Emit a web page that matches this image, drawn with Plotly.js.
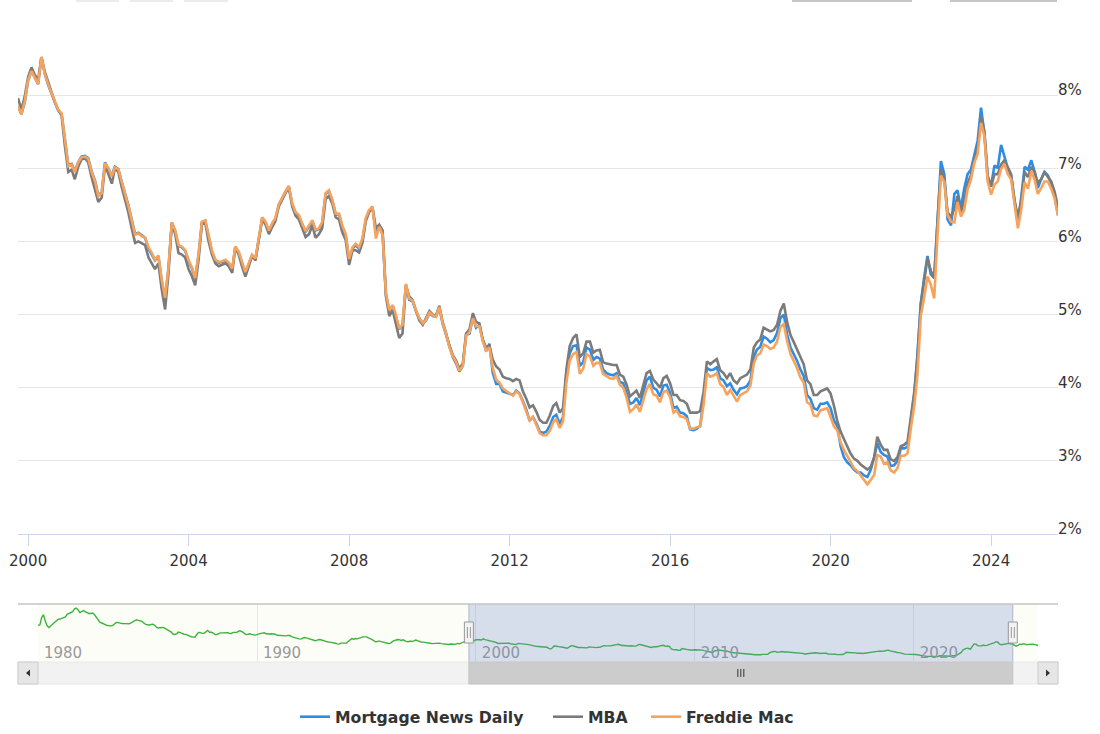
<!DOCTYPE html>
<html>
<head>
<meta charset="utf-8">
<script src="https://cdn.plot.ly/plotly-3.0.1.min.js"></script>
<style>
html,body{margin:0;padding:0;background:#ffffff;}
#chart{width:1100px;height:734px;}
</style>
</head>
<body>
<div id="chart"></div>
<script>
// ---------- DATA (monthly, first point Oct 1999) ----------
const seriesStart = [1999, 10];

const freddieMac = [
  7.85,7.74,7.91,
  8.21,8.33,8.24,8.15,8.52,8.29,8.15,8.03,7.91,7.80,7.75,7.38,
  7.03,7.05,6.95,7.08,7.15,7.16,7.13,6.95,6.82,6.62,6.66,7.07,
  7.00,6.89,7.01,6.99,6.81,6.65,6.49,6.29,6.09,6.11,6.07,6.05,
  5.92,5.84,5.75,5.81,5.48,5.23,5.63,6.26,6.15,5.95,5.93,5.88,
  5.74,5.64,5.50,5.83,6.27,6.29,6.06,5.87,5.75,5.72,5.73,5.75,
  5.71,5.63,5.93,5.86,5.72,5.58,5.70,5.82,5.77,6.07,6.33,6.27,
  6.15,6.25,6.32,6.51,6.60,6.68,6.76,6.52,6.40,6.36,6.24,6.14,
  6.22,6.29,6.16,6.18,6.26,6.66,6.70,6.57,6.38,6.38,6.21,6.10,
  5.76,5.92,5.97,5.92,6.04,6.32,6.43,6.48,6.04,6.20,6.09,5.29,
  5.06,5.13,5.00,4.81,4.86,5.42,5.22,5.19,5.06,4.95,4.88,4.93,
  5.03,4.99,4.97,5.10,4.89,4.74,4.56,4.43,4.35,4.23,4.30,4.71,
  4.76,4.95,4.84,4.84,4.64,4.51,4.55,4.27,4.11,4.07,3.99,3.96,
  3.92,3.89,3.95,3.91,3.80,3.68,3.55,3.60,3.50,3.38,3.35,3.35,
  3.41,3.53,3.57,3.45,3.54,4.07,4.37,4.46,4.49,4.19,4.26,4.46,
  4.43,4.30,4.34,4.34,4.19,4.16,4.13,4.12,4.16,4.04,4.00,3.86,
  3.67,3.71,3.77,3.67,3.84,3.98,4.05,3.91,3.89,3.80,3.94,3.96,
  3.87,3.66,3.69,3.61,3.60,3.57,3.44,3.44,3.46,3.47,3.77,4.20,
  4.15,4.17,4.20,4.05,4.01,3.90,3.97,3.88,3.81,3.90,3.92,3.95,
  4.03,4.33,4.44,4.47,4.59,4.57,4.53,4.55,4.63,4.83,4.87,4.64,
  4.46,4.37,4.27,4.14,4.07,3.80,3.77,3.62,3.61,3.69,3.70,3.72,
  3.60,3.47,3.42,3.25,3.15,3.07,2.98,2.90,2.86,2.80,2.75,2.68,
  2.74,2.81,3.08,3.06,2.96,2.98,2.87,2.84,2.90,3.07,3.07,3.10,
  3.45,3.76,4.17,4.98,5.23,5.52,5.41,5.22,6.11,6.90,6.81,6.36,
  6.27,6.26,6.54,6.34,6.43,6.71,6.84,7.07,7.20,7.62,7.44,6.82,
  6.64,6.78,6.82,6.99,7.06,6.92,6.85,6.50,6.18,6.43,6.81,6.72,
  6.96,6.84,6.65,6.73,6.82,6.82,6.72,6.59,6.35
];

const mba = [
  7.96,7.80,7.98,
  8.25,8.38,8.28,8.20,8.52,8.32,8.18,8.03,7.90,7.80,7.72,7.30,
  6.95,6.98,6.85,7.02,7.12,7.14,7.08,6.88,6.72,6.54,6.60,7.04,
  6.92,6.79,7.00,6.95,6.75,6.58,6.40,6.18,5.98,6.00,5.98,5.95,
  5.78,5.70,5.62,5.70,5.35,5.07,5.55,6.24,6.10,5.84,5.82,5.78,
  5.62,5.52,5.40,5.75,6.24,6.25,6.00,5.82,5.70,5.66,5.68,5.70,
  5.66,5.57,5.92,5.82,5.66,5.52,5.66,5.80,5.74,6.03,6.31,6.23,
  6.10,6.20,6.28,6.48,6.58,6.66,6.74,6.48,6.35,6.30,6.18,6.06,
  6.10,6.22,6.05,6.10,6.18,6.58,6.62,6.52,6.33,6.30,6.12,6.02,
  5.68,5.88,5.88,5.85,5.98,6.28,6.40,6.46,6.18,6.23,6.15,5.25,
  4.98,5.06,4.88,4.68,4.74,5.40,5.25,5.20,5.05,4.92,4.86,4.95,
  5.05,5.00,4.98,5.12,4.90,4.75,4.58,4.45,4.37,4.26,4.33,4.74,
  4.80,5.02,4.90,4.88,4.66,4.55,4.58,4.38,4.29,4.25,4.15,4.13,
  4.12,4.09,4.12,4.10,3.95,3.85,3.73,3.76,3.67,3.56,3.52,3.52,
  3.62,3.75,3.79,3.66,3.72,4.25,4.57,4.68,4.73,4.42,4.47,4.63,
  4.63,4.48,4.51,4.52,4.35,4.33,4.32,4.31,4.31,4.18,4.15,4.04,
  3.88,3.92,3.96,3.86,4.04,4.20,4.23,4.11,4.06,4.00,4.13,4.16,
  4.06,3.90,3.90,3.83,3.82,3.78,3.66,3.66,3.66,3.68,3.95,4.36,
  4.32,4.36,4.39,4.24,4.20,4.13,4.20,4.10,4.06,4.13,4.15,4.18,
  4.25,4.55,4.62,4.66,4.82,4.80,4.77,4.79,4.86,5.05,5.15,4.90,
  4.72,4.62,4.52,4.42,4.32,4.10,4.05,3.90,3.90,3.95,3.97,3.99,
  3.92,3.75,3.55,3.40,3.30,3.20,3.10,3.03,3.00,2.95,2.92,2.88,
  2.92,3.05,3.33,3.22,3.15,3.15,3.02,3.00,3.05,3.20,3.22,3.26,
  3.60,3.95,4.40,5.15,5.45,5.77,5.60,5.50,6.30,6.98,6.85,6.40,
  6.33,6.45,6.62,6.40,6.55,6.80,6.90,7.12,7.28,7.71,7.50,6.90,
  6.75,6.92,6.92,7.05,7.11,7.00,6.92,6.55,6.34,6.55,6.95,6.88,
  7.02,6.95,6.80,6.85,6.95,6.88,6.82,6.68,6.47
];

const mortgageNewsDaily = [
  7.85,7.74,7.90,
  8.20,8.33,8.24,8.15,8.52,8.29,8.14,8.02,7.90,7.79,7.74,7.37,
  7.04,7.06,6.96,7.08,7.16,7.17,7.14,6.96,6.83,6.63,6.67,7.08,
  7.00,6.90,7.02,6.99,6.82,6.66,6.50,6.30,6.10,6.12,6.08,6.05,
  5.90,5.82,5.74,5.80,5.46,5.20,5.62,6.26,6.14,5.94,5.92,5.87,
  5.73,5.63,5.49,5.82,6.26,6.28,6.05,5.86,5.74,5.71,5.72,5.74,
  5.70,5.62,5.92,5.85,5.71,5.57,5.69,5.81,5.76,6.06,6.32,6.26,
  6.14,6.24,6.31,6.50,6.60,6.68,6.75,6.51,6.39,6.35,6.23,6.13,
  6.20,6.28,6.15,6.17,6.25,6.65,6.69,6.56,6.37,6.37,6.20,6.09,
  5.75,5.90,5.95,5.90,6.02,6.30,6.42,6.47,6.10,6.20,6.10,5.28,
  5.05,5.12,4.98,4.80,4.85,5.40,5.20,5.18,5.05,4.95,4.88,4.92,
  5.02,4.98,4.97,5.10,4.88,4.72,4.55,4.42,4.33,4.22,4.30,4.72,
  4.74,4.96,4.82,4.86,4.66,4.50,4.60,4.20,4.05,4.05,3.95,3.93,
  3.92,3.90,3.96,3.92,3.82,3.70,3.55,3.60,3.51,3.40,3.38,3.40,
  3.48,3.60,3.63,3.50,3.60,4.20,4.47,4.57,4.58,4.30,4.35,4.55,
  4.52,4.38,4.42,4.40,4.25,4.20,4.18,4.17,4.20,4.08,4.06,3.93,
  3.78,3.80,3.86,3.76,3.94,4.10,4.15,4.00,3.97,3.88,4.03,4.04,
  3.93,3.72,3.74,3.66,3.65,3.61,3.43,3.42,3.44,3.48,3.84,4.27,
  4.24,4.25,4.28,4.13,4.10,4.02,4.06,3.97,3.91,3.99,4.00,4.02,
  4.10,4.42,4.52,4.56,4.70,4.67,4.62,4.65,4.75,4.95,5.00,4.73,
  4.55,4.46,4.37,4.25,4.16,3.90,3.85,3.72,3.70,3.78,3.78,3.80,
  3.72,3.55,3.48,3.20,3.05,2.98,2.94,2.88,2.84,2.84,2.80,2.78,
  2.88,3.05,3.24,3.12,3.08,3.06,2.93,2.94,3.00,3.17,3.17,3.19,
  3.55,3.90,4.45,5.15,5.50,5.80,5.55,5.50,6.30,7.10,6.92,6.30,
  6.22,6.65,6.70,6.45,6.72,6.92,6.98,7.20,7.38,7.83,7.48,6.86,
  6.77,7.04,7.00,7.32,7.15,7.00,6.90,6.55,6.25,6.60,7.02,6.98,
  7.11,6.95,6.73,6.85,6.95,6.90,6.80,6.62,6.36
];

// Navigator: long Freddie Mac history before the main window (monthly from Jan 1980)
const navigatorStart = [1980, 1];
const navigatorHistory = [
  12.88,13.04,15.28,16.32,14.26,12.71,12.19,12.56,13.20,13.79,14.21,14.79,
  14.90,15.13,15.40,15.58,16.40,16.70,16.83,17.29,18.16,18.45,17.83,16.92,
  17.40,17.60,17.16,16.89,16.68,16.70,16.82,16.27,15.43,14.61,13.83,13.62,
  13.25,13.04,12.80,12.78,12.63,12.87,13.42,13.81,13.73,13.54,13.44,13.42,
  13.37,13.23,13.39,13.65,13.94,14.42,14.67,14.47,14.35,14.13,13.64,13.18,
  13.08,12.92,13.17,13.20,12.91,12.22,12.03,12.19,12.19,12.14,11.78,11.26,
  10.88,10.71,10.08,9.94,10.14,10.68,10.51,10.20,10.01,9.98,9.70,9.31,
  9.20,9.08,9.04,9.83,10.60,10.54,10.28,10.33,10.89,11.26,10.65,10.64,
  10.38,9.89,9.93,10.20,10.46,10.46,10.43,10.60,10.48,10.30,10.27,10.61,
  10.73,10.65,11.03,11.05,10.77,10.20,9.88,9.99,10.13,9.95,9.77,9.74,
  9.90,10.20,10.27,10.37,10.48,10.16,10.04,10.10,10.18,10.18,10.01,9.67,
  9.64,9.37,9.50,9.49,9.47,9.62,9.58,9.24,9.01,8.86,8.71,8.50,
  8.43,8.76,8.94,8.85,8.67,8.51,8.13,7.98,7.92,8.09,8.31,8.22,
  7.99,7.68,7.50,7.47,7.47,7.42,7.21,7.11,6.92,6.83,7.16,7.17,
  7.06,7.15,7.68,8.32,8.60,8.40,8.61,8.51,8.64,8.93,9.17,9.20,
  9.15,8.83,8.46,8.32,7.96,7.57,7.61,7.86,7.64,7.48,7.38,7.20,
  7.03,7.08,7.62,7.93,8.07,8.32,8.25,8.00,8.23,7.92,7.62,7.60,
  7.82,7.65,7.90,8.14,7.94,7.69,7.50,7.48,7.43,7.29,7.21,7.10,
  6.99,7.04,7.13,7.14,7.14,7.00,6.95,6.92,6.72,6.71,6.87,6.72,
  6.79,6.81,7.04,6.92,7.15,7.55,7.63,7.94,7.82
];

const seriesNames  = ['Mortgage News Daily', 'MBA', 'Freddie Mac'];
const seriesColors = ['#2f8ce6', '#7b7b7b', '#f7a35c'];
const mainTickYears = [2000, 2004, 2008, 2012, 2016, 2020, 2024];
const yTickValues   = [2, 3, 4, 5, 6, 7, 8, 9];
const navTickYears  = [1980, 1990, 2000, 2010, 2020];
const mainRange     = ['1999-10-01', '2025-09-01'];
const navRange      = ['1980-01-01', '2025-09-01'];
const navSelection  = ['1999-09-05', '2024-07-08'];
// legend entry left edges (pixels) for the three series
const legendLeft    = [295, 548, 646];

// ---------- helpers ----------
function monthDates(start, n) {
  const out = [];
  for (let i = 0; i < n; i++) {
    const k = start[1] - 1 + i;
    const yy = start[0] + Math.floor(k / 12);
    const mm = (k % 12) + 1;
    out.push(yy + '-' + String(mm).padStart(2, '0') + '-01');
  }
  return out;
}
// layout pixel -> paper helpers (figure 1100x734, margins l18 r42 t22 b50)
const W = 1100, H = 734, ML = 18, MR = 42, MT = 22, MB = 50;
const PW = W - ML - MR, PH = H - MT - MB;
const px = v => (v - ML) / PW;
const py = v => (H - MB - v) / PH;

const mainDates = monthDates(seriesStart, freddieMac.length);
const navValues = navigatorHistory.concat(freddieMac);
const navDates  = monthDates(navigatorStart, navValues.length);
const seriesValues = [mortgageNewsDaily, mba, freddieMac];
const legendIds = ['legend', 'legend2', 'legend3'];

const traces = seriesValues.map((vals, i) => ({
  type: 'scatter', mode: 'lines',
  x: mainDates, y: vals, name: seriesNames[i], legend: legendIds[i],
  line: {color: seriesColors[i], width: 2.6},
  xaxis: 'x', yaxis: 'y', hoverinfo: 'skip'
}));
traces.push({
  type: 'scatter', mode: 'lines', x: navDates, y: navValues,
  xaxis: 'x2', yaxis: 'y2', showlegend: false, hoverinfo: 'skip',
  line: {color: '#3cb43c', width: 1.4}
});

const selMid = new Date((Date.parse(navSelection[0]) + Date.parse(navSelection[1])) / 2).toISOString().slice(0, 10);

const shapes = [];
// navigator background
shapes.push({type: 'rect', xref: 'paper', yref: 'paper', x0: px(38), x1: px(1038), y0: py(662), y1: py(604),
  fillcolor: '#fdfdf8', line: {width: 0}, layer: 'below'});
// navigator mask
shapes.push({type: 'rect', xref: 'x2', yref: 'paper', x0: navSelection[0], x1: navSelection[1], y0: py(662), y1: py(604),
  fillcolor: 'rgba(102,133,194,0.25)', line: {width: 0}, layer: 'above'});
navSelection.forEach(d => shapes.push({type: 'line', xref: 'x2', yref: 'paper', x0: d, x1: d, y0: py(662), y1: py(604),
  line: {color: 'rgba(140,150,180,0.6)', width: 1}}));
// navigator top outline
shapes.push({type: 'line', xref: 'paper', yref: 'paper', x0: 0, x1: 1, y0: py(604), y1: py(604),
  line: {color: '#c4c4c4', width: 1.5}});
// scrollbar track
shapes.push({type: 'rect', xref: 'paper', yref: 'paper', x0: 0, x1: 1, y0: py(684), y1: py(662),
  fillcolor: '#f2f2f2', line: {color: '#e8e8e8', width: 1}});
// scrollbar thumb
shapes.push({type: 'rect', xref: 'x2', yref: 'paper', x0: navSelection[0], x1: navSelection[1], y0: py(684), y1: py(662),
  fillcolor: '#cccccc', line: {color: '#c4c4c4', width: 1}});
// thumb grip
[-3, 0, 3].forEach(o => shapes.push({type: 'line', xref: 'x2', xsizemode: 'pixel', xanchor: selMid,
  x0: o, x1: o, yref: 'paper', y0: py(677), y1: py(669), line: {color: '#333333', width: 1}}));
// scrollbar buttons
[[18, 38], [1038, 1058]].forEach(b => shapes.push({type: 'rect', xref: 'paper', yref: 'paper',
  x0: px(b[0]), x1: px(b[1]), y0: py(684), y1: py(662), fillcolor: '#e6e6e6', line: {color: '#cccccc', width: 1}}));
// arrows
shapes.push({type: 'path', xref: 'paper', yref: 'paper', fillcolor: '#333333', line: {width: 0},
  path: `M ${px(26)},${py(673)} L ${px(30)},${py(669.5)} L ${px(30)},${py(676.5)} Z`});
shapes.push({type: 'path', xref: 'paper', yref: 'paper', fillcolor: '#333333', line: {width: 0},
  path: `M ${px(1050)},${py(673)} L ${px(1046)},${py(669.5)} L ${px(1046)},${py(676.5)} Z`});
// navigator handles
navSelection.forEach(d => {
  shapes.push({type: 'rect', xref: 'x2', xsizemode: 'pixel', xanchor: d, x0: -4.5, x1: 4.5,
    yref: 'paper', y0: py(643), y1: py(622), fillcolor: '#f2f2f2', line: {color: '#999999', width: 1}});
  [-1.5, 1.5].forEach(o => shapes.push({type: 'line', xref: 'x2', xsizemode: 'pixel', xanchor: d,
    x0: o, x1: o, yref: 'paper', y0: py(638), y1: py(627), line: {color: '#999999', width: 1}}));
});
// range selector remnants at top edge
[[76, 119], [130, 173], [184, 228]].forEach(s => shapes.push({type: 'line', xref: 'paper', yref: 'paper',
  x0: px(s[0]), x1: px(s[1]), y0: py(1), y1: py(1), line: {color: '#ececec', width: 2}}));
[[792, 912], [950, 1057]].forEach(s => shapes.push({type: 'line', xref: 'paper', yref: 'paper',
  x0: px(s[0]), x1: px(s[1]), y0: py(1), y1: py(1), line: {color: '#c6c6c6', width: 2}}));

const fontFam = 'DejaVu Sans, Lucida Grande, sans-serif';
const legendFont = {family: fontFam, size: 15.7, color: '#333333', weight: 'bold'};

const layout = {
  width: W, height: H,
  margin: {l: ML, r: MR, t: MT, b: MB, pad: 0, autoexpand: false},
  paper_bgcolor: '#ffffff', plot_bgcolor: 'rgba(0,0,0,0)',
  font: {family: fontFam, color: '#333333', size: 15},
  hovermode: false,
  showlegend: true,
  xaxis: {
    type: 'date', domain: [0, 1], anchor: 'y', range: mainRange,
    tickvals: mainTickYears.map(y => y + '-01-01'), ticktext: mainTickYears.map(String),
    showgrid: false, zeroline: false, showline: true, linecolor: '#ccd6eb', linewidth: 1,
    ticks: 'outside', ticklen: 11, tickcolor: '#ccd6eb', tickwidth: 1, ticklabelstandoff: 2,
    tickfont: {family: fontFam, size: 15, color: '#333333'}
  },
  yaxis: {
    domain: [py(534), 1], anchor: 'x', range: [2, 9], side: 'right',
    tickvals: yTickValues, ticktext: yTickValues.map(v => v === 9 ? '' : v + '%'),
    showgrid: true, gridcolor: '#e6e6e6', gridwidth: 1, zeroline: false, showline: false,
    ticks: '', ticklabelshift: -5, ticklabelstandoff: -1,
    tickfont: {family: fontFam, size: 15, color: '#333333'}
  },
  xaxis2: {
    type: 'date', domain: [px(38), px(1038)], anchor: 'y2', range: navRange,
    tickvals: navTickYears.map(y => y + '-01-01'), ticktext: navTickYears.map(String),
    showgrid: true, gridcolor: '#e6e6e6', gridwidth: 1, zeroline: false, showline: false,
    ticks: '', ticklabelposition: 'inside', ticklabelshift: 25, ticklabelstandoff: -2,
    tickfont: {family: fontFam, size: 15, color: '#999999'}
  },
  yaxis2: {
    domain: [py(662), py(604)], anchor: 'x2', range: [1.07, 19.74],
    showgrid: false, zeroline: false, showline: false, showticklabels: false, ticks: ''
  },
  shapes: shapes
};
legendIds.forEach((id, i) => {
  layout[id] = {orientation: 'h', x: px(legendLeft[i]), xanchor: 'left', y: py(717), yanchor: 'middle',
    font: legendFont, itemwidth: 30, bgcolor: 'rgba(0,0,0,0)', borderwidth: 0};
});

Plotly.newPlot('chart', traces, layout, {displayModeBar: false, staticPlot: true});
</script>
</body>
</html>
